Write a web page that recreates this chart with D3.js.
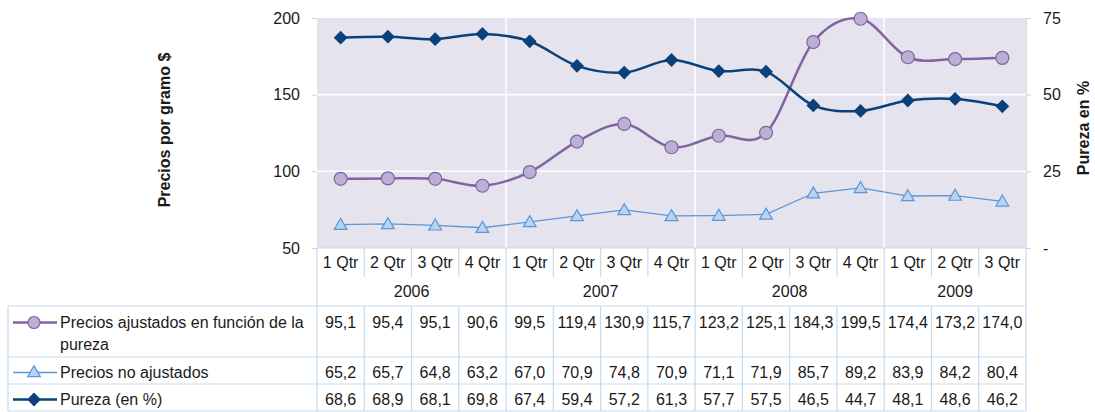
<!DOCTYPE html>
<html>
<head>
<meta charset="utf-8">
<script src="https://cdn.jsdelivr.net/npm/d3@7"></script>
<style>
  body { margin: 0; background: #fff; }
  svg text { font-family: "Liberation Sans", Arial, sans-serif; fill: #1a1a1a; }
</style>
</head>
<body>
<div id="chart"></div>
<script>
// data
var quarters = ["1 Qtr", "2 Qtr", "3 Qtr", "4 Qtr", "1 Qtr", "2 Qtr", "3 Qtr", "4 Qtr",
                "1 Qtr", "2 Qtr", "3 Qtr", "4 Qtr", "1 Qtr", "2 Qtr", "3 Qtr"];
var years = ["2006", "2007", "2008", "2009"];
var yearCounts = [4, 4, 4, 3];
var ajustados = [95.1, 95.4, 95.1, 90.6, 99.5, 119.4, 130.9, 115.7, 123.2, 125.1, 184.3, 199.5, 174.4, 173.2, 174.0];
var noAjustados = [65.2, 65.7, 64.8, 63.2, 67.0, 70.9, 74.8, 70.9, 71.1, 71.9, 85.7, 89.2, 83.9, 84.2, 80.4];
var pureza = [68.6, 68.9, 68.1, 69.8, 67.4, 59.4, 57.2, 61.3, 57.7, 57.5, 46.5, 44.7, 48.1, 48.6, 46.2];
var leftTicks = [50, 100, 150, 200];
var rightTicks = [0, 25, 50, 75];

var width = 1095, height = 412;
var plot = { left: 317, right: 1026, top: 18, bottom: 248 };
var tableLeft = 8;
var rowLines = [306, 357, 384, 411];

var svg = d3.select("#chart").append("svg")
    .attr("width", width)
    .attr("height", height);

var idx = d3.range(quarters.length);
var xBand = d3.scaleBand().domain(idx).range([plot.left, plot.right]);
var bw = xBand.bandwidth();
var xc = function(i) { return xBand(i) + bw / 2; };

var yLeft = d3.scaleLinear().domain([50, 200]).range([plot.bottom, plot.top]);
var yRight = d3.scaleLinear().domain([0, 75]).range([plot.bottom, plot.top]);

// plot background
svg.append("rect")
    .attr("x", plot.left).attr("y", plot.top)
    .attr("width", plot.right - plot.left).attr("height", plot.bottom - plot.top)
    .attr("fill", "#e5e3ee");

// horizontal grid
svg.append("g").selectAll("line")
    .data(leftTicks.slice(1, 3))
    .enter().append("line")
    .attr("x1", plot.left).attr("x2", plot.right)
    .attr("y1", d => yLeft(d)).attr("y2", d => yLeft(d))
    .attr("stroke", "#fff").attr("stroke-width", 1.5);

// year boundaries
var yearStarts = [];
var acc = 0;
yearCounts.forEach(function(c) { yearStarts.push(acc); acc += c; });
svg.append("g").selectAll("line")
    .data(yearStarts.slice(1))
    .enter().append("line")
    .attr("x1", d => xBand(d)).attr("x2", d => xBand(d))
    .attr("y1", plot.top).attr("y2", plot.bottom)
    .attr("stroke", "#fff").attr("stroke-width", 1.5);

// left axis
var leftAxis = svg.append("g")
    .attr("transform", `translate(${plot.left},0)`)
    .call(d3.axisLeft(yLeft).tickValues(leftTicks).tickSize(5).tickPadding(12));
leftAxis.select(".domain").remove();
leftAxis.selectAll(".tick line").attr("stroke", "#d0d0d8");
leftAxis.selectAll("text").attr("font-size", "16px").attr("fill", "#1a1a1a");

// right axis
var rightAxis = svg.append("g")
    .attr("transform", `translate(${plot.right},0)`)
    .call(d3.axisRight(yRight).tickValues(rightTicks).tickSize(5).tickPadding(12)
      .tickFormat(d => d === 0 ? "-" : d));
rightAxis.select(".domain").attr("stroke", "#dcdce4");
rightAxis.selectAll(".tick line").attr("stroke", "#d0d0d8");
rightAxis.selectAll("text").attr("font-size", "16px").attr("fill", "#1a1a1a");

// axis titles
svg.append("text")
    .attr("transform", "translate(170,130) rotate(-90)")
    .attr("text-anchor", "middle")
    .attr("font-size", "16px").attr("font-weight", "bold")
    .text("Precios por gramo $");
svg.append("text")
    .attr("transform", "translate(1089,128) rotate(-90)")
    .attr("text-anchor", "middle")
    .attr("font-size", "16px").attr("font-weight", "bold")
    .text("Pureza en %");

// series lines
var purple = "#8064a2", purpleFill = "#bcafd4";
var blue = "#5b97d6", blueFill = "#b8d4f0";
var navy = "#0a417a";

var smooth = d3.line().x((d, i) => xc(i)).curve(d3.curveCatmullRom.alpha(0));

svg.append("path")
    .datum(noAjustados)
    .attr("d", d3.line().x((d, i) => xc(i)).y(d => yLeft(d)))
    .attr("fill", "none").attr("stroke", blue).attr("stroke-width", 1.3);

svg.append("path")
    .datum(ajustados)
    .attr("d", smooth.y(d => yLeft(d)))
    .attr("fill", "none").attr("stroke", purple).attr("stroke-width", 2.5);

svg.append("path")
    .datum(pureza)
    .attr("d", d3.line().x((d, i) => xc(i)).y(d => yRight(d)).curve(d3.curveCatmullRom.alpha(0)))
    .attr("fill", "none").attr("stroke", navy).attr("stroke-width", 2.5);

// markers
var triangle = d3.symbol().type(d3.symbolTriangle).size(70);
var diamond = d3.symbol().type(d3.symbolSquare).size(95);

svg.append("g").selectAll("path")
    .data(noAjustados)
    .enter().append("path")
    .attr("d", triangle)
    .attr("transform", (d, i) => `translate(${xc(i)},${yLeft(d) + 1})`)
    .attr("fill", blueFill).attr("stroke", blue).attr("stroke-width", 1.2);

svg.append("g").selectAll("circle")
    .data(ajustados)
    .enter().append("circle")
    .attr("cx", (d, i) => xc(i)).attr("cy", d => yLeft(d))
    .attr("r", 6.5)
    .attr("fill", purpleFill).attr("stroke", purple).attr("stroke-width", 1.2);

svg.append("g").selectAll("path")
    .data(pureza)
    .enter().append("path")
    .attr("d", diamond)
    .attr("transform", (d, i) => `translate(${xc(i)},${yRight(d)}) rotate(45)`)
    .attr("fill", navy);

// ---- data table ----
var border = "#c5dcf0";
var tg = svg.append("g").attr("stroke", border).attr("stroke-width", 1.2);

// bottom of plot
tg.append("line").attr("x1", plot.left).attr("x2", plot.right)
    .attr("y1", plot.bottom).attr("y2", plot.bottom);
// table row lines
rowLines.forEach(function(y) {
  tg.append("line").attr("x1", tableLeft).attr("x2", plot.right).attr("y1", y).attr("y2", y);
});
// outer verticals
tg.append("line").attr("x1", tableLeft).attr("x2", tableLeft).attr("y1", rowLines[0]).attr("y2", rowLines[3]);
tg.append("line").attr("x1", plot.left).attr("x2", plot.left).attr("y1", plot.bottom).attr("y2", rowLines[3]);
tg.append("line").attr("x1", plot.right).attr("x2", plot.right).attr("y1", plot.bottom).attr("y2", rowLines[3]);
// quarter separators
idx.slice(1).forEach(function(i) {
  var x = xBand(i);
  var isYear = yearStarts.indexOf(i) >= 0;
  tg.append("line").attr("x1", x).attr("x2", x)
      .attr("y1", plot.bottom).attr("y2", 277);
  tg.append("line").attr("x1", x).attr("x2", x)
      .attr("y1", isYear ? 277 : rowLines[0]).attr("y2", rowLines[3]);
});

// quarter labels
svg.append("g").selectAll("text")
    .data(quarters)
    .enter().append("text")
    .attr("x", (d, i) => xc(i)).attr("y", 262).attr("dy", "0.35em")
    .attr("text-anchor", "middle").attr("font-size", "16px")
    .text(d => d);

// year labels
svg.append("g").selectAll("text")
    .data(years)
    .enter().append("text")
    .attr("x", (d, i) => xBand(yearStarts[i]) + yearCounts[i] * bw / 2)
    .attr("y", 291.5).attr("dy", "0.35em")
    .attr("text-anchor", "middle").attr("font-size", "16px")
    .text(d => d);

// value rows
var fmt = d => d.toFixed(1).replace(".", ",");
var rows = [
  { values: ajustados, y: 322 },
  { values: noAjustados, y: 372 },
  { values: pureza, y: 399.5 }
];
rows.forEach(function(r) {
  svg.append("g").selectAll("text")
      .data(r.values)
      .enter().append("text")
      .attr("x", (d, i) => xc(i)).attr("y", r.y).attr("dy", "0.35em")
      .attr("text-anchor", "middle").attr("font-size", "16px")
      .text(fmt);
});

// legend keys
var keyX1 = 13, keyX2 = 57, keyM = 34;
svg.append("line").attr("x1", keyX1).attr("x2", keyX2).attr("y1", 322.5).attr("y2", 322.5)
    .attr("stroke", purple).attr("stroke-width", 2.5);
svg.append("circle").attr("cx", keyM).attr("cy", 322.5).attr("r", 6)
    .attr("fill", purpleFill).attr("stroke", purple).attr("stroke-width", 1.2);
svg.append("line").attr("x1", keyX1).attr("x2", keyX2).attr("y1", 372.5).attr("y2", 372.5)
    .attr("stroke", blue).attr("stroke-width", 1.3);
svg.append("path").attr("d", triangle).attr("transform", `translate(${keyM},${373})`)
    .attr("fill", blueFill).attr("stroke", blue).attr("stroke-width", 1.2);
svg.append("line").attr("x1", keyX1).attr("x2", keyX2).attr("y1", 399.5).attr("y2", 399.5)
    .attr("stroke", navy).attr("stroke-width", 2.5);
svg.append("path").attr("d", diamond).attr("transform", `translate(${keyM},399.5) rotate(45)`)
    .attr("fill", navy);

// legend labels
svg.append("text").attr("x", 60).attr("y", 322).attr("dy", "0.35em").attr("font-size", "16px")
    .text("Precios ajustados en función de la");
svg.append("text").attr("x", 60).attr("y", 344).attr("dy", "0.35em").attr("font-size", "16px")
    .text("pureza");
svg.append("text").attr("x", 60).attr("y", 372).attr("dy", "0.35em").attr("font-size", "16px")
    .text("Precios no ajustados");
svg.append("text").attr("x", 60).attr("y", 399.5).attr("dy", "0.35em").attr("font-size", "16px")
    .text("Pureza (en %)");
</script>
</body>
</html>
